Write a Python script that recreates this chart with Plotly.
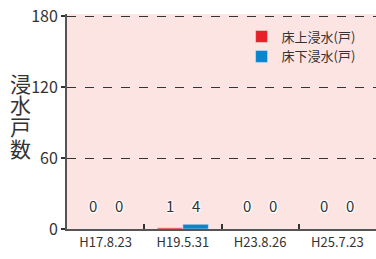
import plotly.graph_objects as go

categories = ["H17.8.23", "H19.5.31", "H23.8.26", "H25.7.23"]
above_floor = [0, 1, 0, 0]
below_floor = [0, 4, 0, 0]
series_names = ["床上浸水(戸)", "床下浸水(戸)"]
y_ticks = [0, 60, 120, 180]
y_title_chars = ["浸", "水", "戸", "数"]

FONT = "Noto Sans CJK JP, Noto Sans, sans-serif"
DARK = "#333333"
RED = "#e8202a"
BLUE = "#0a84cc"
PINK = "#fce4e2"

fig = go.Figure()
fig.add_trace(go.Bar(x=categories, y=above_floor, name=series_names[0], marker_color=RED))
fig.add_trace(go.Bar(x=categories, y=below_floor, name=series_names[1], marker_color=BLUE))

shadow = "1px 1px 1px white, -1px -1px 1px white, 1px -1px 1px white, -1px 1px 1px white"
for cat, a, b in zip(categories, above_floor, below_floor):
    for val, shift in ((a, -13), (b, 13)):
        fig.add_annotation(x=cat, y=20, text=str(val), showarrow=False, xshift=shift,
                           xref="x", yref="y",
                           font=dict(size=15, color=DARK, family=FONT, shadow=shadow))

n = len(y_title_chars)
for i, ch in enumerate(y_title_chars):
    fig.add_annotation(x=-0.149, y=0.53, xref="paper", yref="paper", text=ch, showarrow=False,
                       xanchor="center", yanchor="middle", yshift=(n - 1) / 2 * 21.7 - i * 21.7,
                       font=dict(size=21, color=DARK, family=FONT))

fig.update_layout(
    width=376, height=259,
    margin=dict(l=67, r=0, t=14, b=30, autoexpand=False),
    paper_bgcolor="white", plot_bgcolor=PINK,
    barmode="group", bargap=0.34, bargroupgap=0,
    font=dict(family=FONT, color=DARK),
    showlegend=True,
    legend=dict(x=0.565, y=0.965, xanchor="left", yanchor="top", bgcolor="rgba(0,0,0,0)",
                font=dict(size=13, color=DARK, family=FONT), itemwidth=30,
                tracegroupgap=0),
    xaxis=dict(type="category", tickson="boundaries", ticks="inside", ticklen=5,
               tickcolor=DARK, tickwidth=2, showline=True, linecolor="#555555", linewidth=2,
               showgrid=False, automargin=False,
               tickfont=dict(size=13, color=DARK, family=FONT)),
    yaxis=dict(range=[0, 181.7], tickvals=y_ticks, ticks="outside", ticklen=4, tickwidth=2,
               tickcolor=DARK, showline=True, linecolor="#555555", linewidth=2,
               showgrid=True, gridcolor=DARK, griddash="dash", gridwidth=1,
               zeroline=False, automargin=False, ticklabeloverflow="allow",
               tickfont=dict(size=16, color=DARK, family=FONT)),
)

fig.write_html("out.html", config={"displayModeBar": False},
               post_script="document.body.style.margin='0';document.body.style.overflow='hidden';")
